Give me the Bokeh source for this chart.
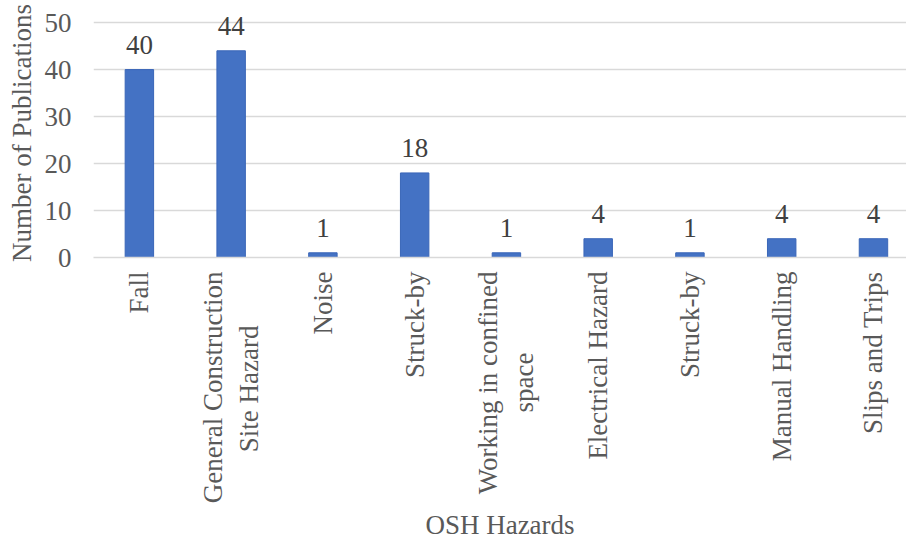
import math
from bokeh.plotting import figure
from bokeh.models import ColumnDataSource, FixedTicker, Range1d, LabelSet
from bokeh.embed import file_html
from bokeh.resources import INLINE

categories = ["Fall", "General Construction\nSite Hazard", "Noise", "Struck-by",
              "Working in confined\nspace", "Electrical Hazard", "Struck-by",
              "Manual Handling", "Slips and Trips"]
publications = [40, 44, 1, 18, 1, 4, 1, 4, 4]
y_ticks = [0, 10, 20, 30, 40, 50]

FONT = "Liberation Serif"
NBSP = "\u00a0"


def centre_lines(label):
    # Bokeh right-aligns the lines of a rotated tick label; pad the shorter
    # second line with no-break spaces so it sits centred under the first.
    lines = label.split("\n")
    if len(lines) == 2:
        pad = {"Site Hazard": 8, "space": 12}.get(lines[1], 0)
        lines[1] = lines[1] + NBSP * pad
    return "\n".join(lines)


positions = list(range(len(categories)))
src = ColumnDataSource(dict(x=positions, y=publications,
                            label=[str(v) for v in publications]))

# headroom above the top gridline so the "44" label is not clipped
p = figure(width=906, height=543, output_backend="svg", toolbar_location=None,
           x_range=Range1d(-0.5, 8.36), y_range=Range1d(0, 53),
           min_border_left=93, min_border_top=8, min_border_right=0,
           min_border_bottom=286)
p.outline_line_color = None
p.background_fill_color = "white"
p.border_fill_color = "white"

p.vbar(x="x", top="y", width=0.31, bottom=0, source=src,
       fill_color="#4472C4", line_color="#3a66b8", line_width=1)

labels = LabelSet(x="x", y="y", text="label", source=src, text_align="center",
                  text_baseline="alphabetic", y_offset=16,
                  text_font=FONT, text_font_size="27px", text_color="#404040")
p.add_layout(labels)

# x axis
p.xaxis.ticker = FixedTicker(ticks=positions)
p.xaxis.major_label_overrides = {i: centre_lines(c) for i, c in zip(positions, categories)}
p.xaxis.major_label_orientation = math.pi / 2
p.xaxis.major_tick_line_color = None
p.xaxis.minor_tick_line_color = None
p.xaxis.axis_line_color = "#d9d9d9"
p.xaxis.axis_line_width = 1.5
p.xaxis.major_label_standoff = 8
p.xaxis.major_label_text_font = FONT
p.xaxis.major_label_text_font_size = "27px"
p.xaxis.major_label_text_color = "#595959"
p.xaxis.axis_label = "OSH Hazards"
p.xaxis.axis_label_text_font = FONT
p.xaxis.axis_label_text_font_size = "27px"
p.xaxis.axis_label_text_font_style = "normal"
p.xaxis.axis_label_text_color = "#595959"
p.xaxis.axis_label_standoff = 4

# y axis
p.yaxis.ticker = FixedTicker(ticks=y_ticks)
p.yaxis.axis_line_color = None
p.yaxis.major_tick_line_color = None
p.yaxis.minor_tick_line_color = None
p.yaxis.major_label_standoff = 16
p.yaxis.major_label_text_font = FONT
p.yaxis.major_label_text_font_size = "27px"
p.yaxis.major_label_text_color = "#595959"
p.yaxis.axis_label = "Number of Publications"
p.yaxis.axis_label_text_font = FONT
p.yaxis.axis_label_text_font_size = "27px"
p.yaxis.axis_label_text_font_style = "normal"
p.yaxis.axis_label_text_color = "#595959"
p.yaxis.axis_label_standoff = 5

p.xgrid.grid_line_color = None
p.ygrid.grid_line_color = "#d9d9d9"
p.ygrid.grid_line_width = 1.5

open("out.html", "w").write(file_html(p, INLINE))
